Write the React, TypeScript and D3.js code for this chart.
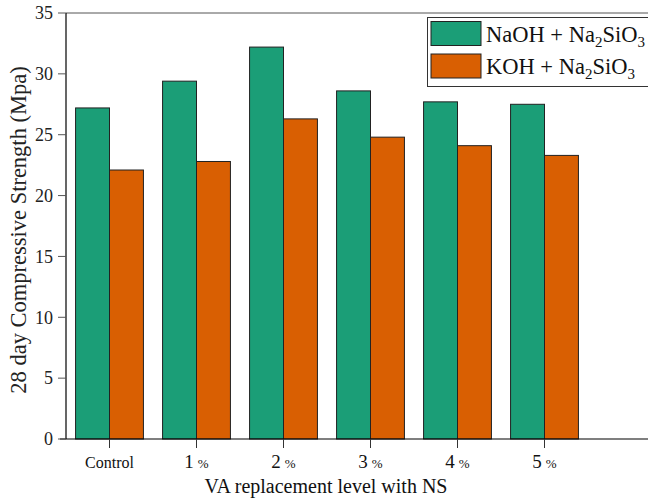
import React from "react";
import * as d3 from "d3";

const categories = ["Control", "1", "2", "3", "4", "5"];
const naohValues = [27.2, 29.4, 32.2, 28.6, 27.7, 27.5];
const kohValues = [22.1, 22.8, 26.3, 24.8, 24.1, 23.3];
const yTicks = [0, 5, 10, 15, 20, 25, 30, 35];

const W = 648;
const H = 498;
const left = 66;
const top = 13;
const bottom = 439;
const right = 648;
const step = 87;

const FONT = "'Liberation Serif', 'Times New Roman', serif";
const GREEN = "#1b9e77";
const ORANGE = "#d95f02";

export default function App() {
  const y = d3.scaleLinear().domain([0, 35]).range([bottom, top]);
  const x = d3
    .scaleBand<string>()
    .domain(categories)
    .range([left, left + step * categories.length])
    .paddingInner(0.22)
    .paddingOuter(0.11);
  const inner = d3.scaleBand<string>().domain(["a", "b"]).range([0, x.bandwidth()]);
  const center = (c: string) => (x(c) as number) + x.bandwidth() / 2;

  return (
    <svg
      width={W}
      height={H}
      style={{ position: "absolute", left: 0, top: 0, background: "#fff" }}
      fontFamily={FONT}
    >
      {/* bars */}
      {categories.map((c, i) => (
        <g key={c}>
          <rect
            x={(x(c) as number) + (inner("a") as number)}
            y={y(naohValues[i])}
            width={inner.bandwidth()}
            height={bottom - y(naohValues[i])}
            fill={GREEN}
            stroke="#222"
            strokeWidth={1}
          />
          <rect
            x={(x(c) as number) + (inner("b") as number)}
            y={y(kohValues[i])}
            width={inner.bandwidth()}
            height={bottom - y(kohValues[i])}
            fill={ORANGE}
            stroke="#222"
            strokeWidth={1}
          />
        </g>
      ))}

      {/* frame */}
      <line x1={left} x2={right} y1={top} y2={top} stroke="#555" strokeWidth={1} />
      <line x1={left} x2={left} y1={top} y2={bottom} stroke="#000" strokeWidth={1.2} />
      <line x1={left - 6} x2={right} y1={bottom} y2={bottom} stroke="#000" strokeWidth={1.2} />

      {/* y axis */}
      {yTicks.map((t) => (
        <g key={t}>
          <line x1={left - 8} x2={left} y1={y(t)} y2={y(t)} stroke="#555" strokeWidth={1} />
          <text
            x={left - 13}
            y={y(t)}
            dy="0.35em"
            textAnchor="end"
            fontSize={18}
            fill="#222"
          >
            {t}
          </text>
        </g>
      ))}
      <text
        transform={`translate(26,230) rotate(-90)`}
        textAnchor="middle"
        fontSize={22.5}
        fill="#222"
      >
        28 day Compressive Strength (Mpa)
      </text>

      {/* x axis */}
      {categories.map((c, i) => (
        <g key={c}>
          <line x1={center(c)} x2={center(c)} y1={bottom} y2={bottom + 9} stroke="#333" strokeWidth={1} />
          {i === 0 ? (
            <text x={center(c)} y={468} textAnchor="middle" fontSize={16} fill="#111">
              {c}
            </text>
          ) : (
            <text x={center(c)} y={468} textAnchor="middle" fill="#111">
              <tspan fontSize={19}>{c}</tspan>
              <tspan fontSize={13} dx={4}>%</tspan>
            </text>
          )}
        </g>
      ))}
      <text x={326} y={493} textAnchor="middle" fontSize={20} fill="#111">
        VA replacement level with NS
      </text>

      {/* legend */}
      <rect x={427.5} y={17.5} width={222} height={69} fill="#fff" stroke="#333" strokeWidth={1} />
      <rect x={431} y={21.5} width={50} height={24} fill={GREEN} stroke="#222" strokeWidth={1} />
      <rect x={431} y={54} width={50} height={24} fill={ORANGE} stroke="#222" strokeWidth={1} />
      <text x={486} y={41.5} fontSize={22.5} fill="#111">
        NaOH + Na<tspan fontSize={15} dy={5}>2</tspan>
        <tspan dy={-5}>SiO</tspan>
        <tspan fontSize={15} dy={5}>3</tspan>
      </text>
      <text x={486} y={74} fontSize={22.5} fill="#111">
        KOH + Na<tspan fontSize={15} dy={5}>2</tspan>
        <tspan dy={-5}>SiO</tspan>
        <tspan fontSize={15} dy={5}>3</tspan>
      </text>
    </svg>
  );
}
